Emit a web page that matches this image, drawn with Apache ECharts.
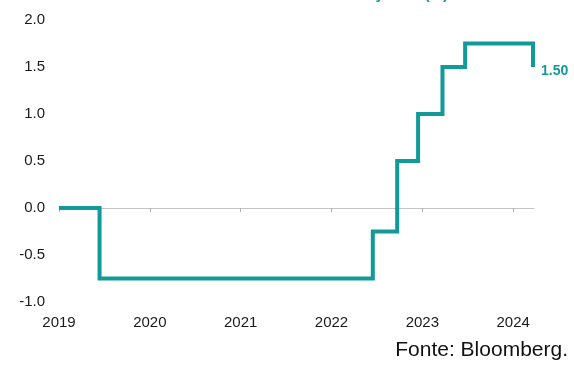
<!DOCTYPE html>
<html>
<head>
<meta charset="utf-8">
<script src="https://cdn.jsdelivr.net/npm/echarts@6/dist/echarts.min.js"></script>
<style>
  html, body { margin: 0; padding: 0; background: #ffffff; }
  #chart { width: 574px; height: 367px; }
</style>
</head>
<body>
<div id="chart"></div>
<script>
// SNB policy rate: dates on which the rate changed, and the new level (%)
const changeDates = ['2019-01-01', '2019-06-13', '2022-06-16', '2022-09-22', '2022-12-15', '2023-03-23', '2023-06-22', '2024-03-21'];
const rateValues = [0, -0.75, -0.25, 0.5, 1.0, 1.5, 1.75, 1.5];
const yearTicks = [2019, 2020, 2021, 2022, 2023, 2024];
const yTicks = [-1.0, -0.5, 0.0, 0.5, 1.0, 1.5, 2.0];
const xEnd = '2024-03-25';

const TEAL = '#12999a';
const FONT = '"Liberation Sans", Arial, sans-serif';

// convert an ISO date into a fractional year so the x axis can be a value axis
function toYear(iso) {
  const d = new Date(iso + 'T00:00:00Z');
  const y = d.getUTCFullYear();
  const start = Date.UTC(y, 0, 1);
  const end = Date.UTC(y + 1, 0, 1);
  return y + (d.getTime() - start) / (end - start);
}

const seriesData = changeDates.map((d, i) => [toYear(d), rateValues[i]]);

const chart = echarts.init(document.getElementById('chart'), null, { renderer: 'canvas' });

chart.setOption({
  backgroundColor: '#ffffff',
  animation: false,
  grid: { left: 59, right: 40, top: 20, bottom: 65, containLabel: false },
  graphic: [
    {
      // heading sits above the canvas edge; only its descenders show
      type: 'text',
      x: 448,
      y: 2,
      style: {
        text: 'Swiss National Bank: Policy Rate (%)',
        font: 'bold 15px ' + FONT,
        fill: TEAL,
        align: 'right',
        verticalAlign: 'bottom'
      }
    },
    {
      type: 'text',
      right: 6,
      bottom: 6,
      style: {
        text: 'Fonte: Bloomberg.',
        font: '21px ' + FONT,
        fill: '#111111'
      }
    }
  ],
  xAxis: [
    {
      // zero line with year ticks
      type: 'value',
      min: yearTicks[0],
      max: toYear(xEnd),
      interval: 1,
      axisLine: { show: true, onZero: true, lineStyle: { color: '#c4c4c4', width: 1 } },
      axisTick: { show: true, inside: false, length: 4, customValues: yearTicks, lineStyle: { color: '#b0b0b0' } },
      axisLabel: { show: false },
      splitLine: { show: false }
    },
    {
      // year labels along the bottom edge
      type: 'value',
      position: 'bottom',
      min: yearTicks[0],
      max: toYear(xEnd),
      interval: 1,
      axisLine: { show: false, onZero: false },
      axisTick: { show: false },
      splitLine: { show: false },
      axisLabel: {
        show: true,
        customValues: yearTicks,
        margin: 13,
        color: '#1a1a1a',
        fontSize: 15,
        fontFamily: FONT,
        formatter: v => String(Math.round(v))
      }
    }
  ],
  yAxis: {
    type: 'value',
    min: yTicks[0],
    max: yTicks[yTicks.length - 1],
    interval: 0.5,
    axisLine: { show: false },
    axisTick: { show: false },
    splitLine: { show: false },
    axisLabel: {
      margin: 14,
      color: '#1a1a1a',
      fontSize: 15,
      fontFamily: FONT,
      formatter: v => v.toFixed(1)
    }
  },
  series: [
    {
      type: 'line',
      xAxisIndex: 0,
      step: 'end',
      data: seriesData,
      showSymbol: false,
      symbol: 'none',
      lineStyle: { color: TEAL, width: 4, cap: 'butt', join: 'miter' },
      endLabel: {
        show: true,
        formatter: p => p.value[1].toFixed(2),
        color: TEAL,
        fontWeight: 'bold',
        fontSize: 14,
        fontFamily: FONT,
        distance: 8,
        offset: [0, 4]
      }
    }
  ]
});
</script>
</body>
</html>
